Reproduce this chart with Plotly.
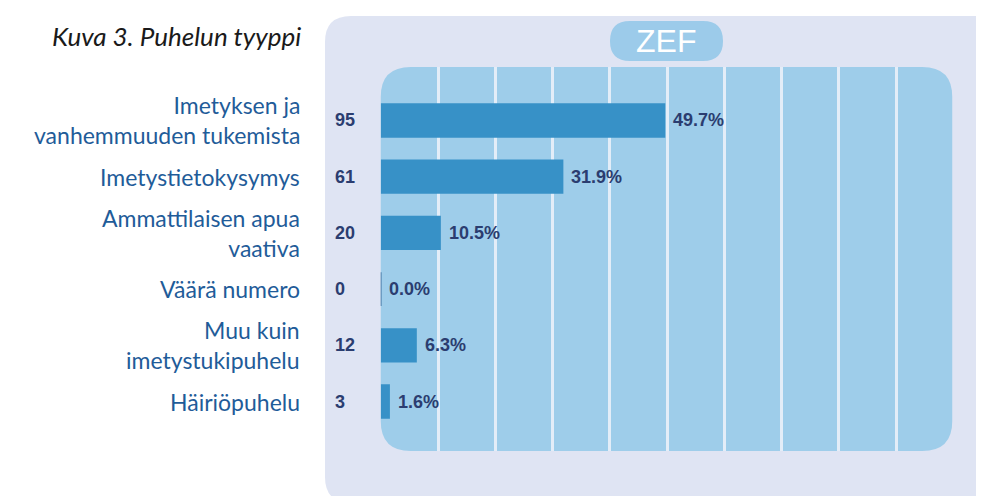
import plotly.graph_objects as go

categories = [
    "Imetyksen ja<br>vanhemmuuden tukemista",
    "Imetystietokysymys",
    "Ammattilaisen apua<br>vaativa",
    "Väärä numero",
    "Muu kuin<br>imetystukipuhelu",
    "Häiriöpuhelu",
]
counts = [95, 61, 20, 0, 12, 3]
percents = [49.7, 31.9, 10.5, 0.0, 6.3, 1.6]
grid_ticks = [10, 20, 30, 40, 50, 60, 70, 80, 90]

W, H = 984, 496
def X(px):
    return px / W
def Y(py):
    return 1 - py / H

def rrect(x0, y0, x1, y1, r):
    return (f"M{X(x0+r)},{Y(y0)} L{X(x1-r)},{Y(y0)} Q{X(x1)},{Y(y0)} {X(x1)},{Y(y0+r)} "
            f"L{X(x1)},{Y(y1-r)} Q{X(x1)},{Y(y1)} {X(x1-r)},{Y(y1)} "
            f"L{X(x0+r)},{Y(y1)} Q{X(x0)},{Y(y1)} {X(x0)},{Y(y1-r)} "
            f"L{X(x0)},{Y(y0+r)} Q{X(x0)},{Y(y0)} {X(x0+r)},{Y(y0)} Z")

BAR = "#3791c7"
NAVY = "#2b3d70"
LABEL = "#1f5c99"

# plot area in pixels
PX0, PX1 = 372.75, 945.25
PY0, PY1 = 59, 443
row0, step = 112.5, 56.2
ytop = (PY0 - row0) / step
ybot = (PY1 - row0) / step

fig = go.Figure()
fig.add_trace(go.Bar(
    y=categories, x=percents, orientation="h",
    marker=dict(color=BAR, line=dict(width=0)),
    width=0.61, hoverinfo="skip",
))

shapes = [
    dict(type="path", xref="paper", yref="paper", path=rrect(317, 8, 1010, 495, 26),
         fillcolor="#dfe4f3", line=dict(width=0), layer="below"),
    dict(type="path", xref="paper", yref="paper", path=rrect(PX0, PY0, PX1 - 1, PY1, 30),
         fillcolor="#9ecdea", line=dict(width=0), layer="below"),
    dict(type="path", xref="paper", yref="paper", path=rrect(602, 13, 715, 53, 20),
         fillcolor="#9ccbea", line=dict(width=0), layer="below"),
]
# thin marker for zero-valued bars
for i, v in enumerate(percents):
    if v == 0:
        shapes.append(dict(type="line", xref="x", yref="y", x0=v, x1=v,
                           y0=i - 0.3, y1=i + 0.3,
                           line=dict(color="#3a6c9c", width=1.5)))

annotations = [
    dict(text="Kuva 3. Puhelun tyyppi", xref="paper", yref="paper",
         x=X(295), y=Y(28), xanchor="right", yanchor="middle", showarrow=False,
         font=dict(family="Lato", size=26, color="#1a1a1a", style="italic")),
    dict(text="ZEF", xref="paper", yref="paper", x=X(658), y=Y(33),
         xanchor="center", yanchor="middle", showarrow=False,
         font=dict(family="Liberation Sans", size=32, color="#ffffff")),
]
for i, (c, n, p) in enumerate(zip(categories, counts, percents)):
    annotations.append(dict(text=c, xref="paper", yref="y", x=X(294), y=i,
                            xanchor="right", yanchor="middle", align="right", showarrow=False,
                            font=dict(family="Lato", size=23, color=LABEL)))
    annotations.append(dict(text=f"<b>{n}</b>", xref="paper", yref="y", x=X(325), y=i,
                            xanchor="left", yanchor="middle", showarrow=False,
                            font=dict(family="Liberation Sans", size=18, color=NAVY)))
    annotations.append(dict(text=f"<b>{p:.1f}%</b>", xref="x", yref="y", x=p, y=i,
                            xanchor="left", yanchor="middle", showarrow=False, xshift=6,
                            font=dict(family="Liberation Sans", size=18, color=NAVY)))

fig.update_layout(
    width=W, height=H,
    margin=dict(l=0, r=0, t=0, b=0),
    paper_bgcolor="#ffffff", plot_bgcolor="rgba(0,0,0,0)",
    showlegend=False,
    xaxis=dict(domain=[X(PX0), X(PX1)], range=[0, 100], tickvals=grid_ticks,
               showticklabels=False, showgrid=True, gridcolor="#e3edf8", gridwidth=3,
               zeroline=False, showline=False, fixedrange=True),
    yaxis=dict(domain=[Y(PY1), Y(PY0)], range=[ybot, ytop], type="category",
               categoryarray=categories, showticklabels=False, showgrid=False,
               zeroline=False, showline=False, fixedrange=True),
    shapes=shapes, annotations=annotations,
)
fig.write_html("out.html")
